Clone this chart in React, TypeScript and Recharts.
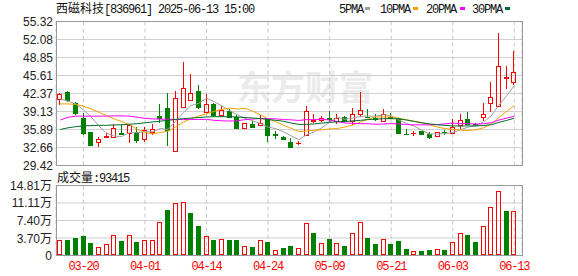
import React from 'react';
import { ComposedChart, Bar, Line, XAxis, YAxis, CartesianGrid } from 'recharts';

// 西磁科技 836961, daily K-line 2025-03-17 .. 2025-06-13
const dates = [
  '03-17', '03-18', '03-19', '03-20', '03-21', '03-24', '03-25', '03-26', '03-27', '03-28',
  '03-31', '04-01', '04-02', '04-03', '04-07', '04-08', '04-09', '04-10', '04-11', '04-14',
  '04-15', '04-16', '04-17', '04-18', '04-21', '04-22', '04-23', '04-24', '04-25', '04-28',
  '04-29', '04-30', '05-06', '05-07', '05-08', '05-09', '05-12', '05-13', '05-14', '05-15',
  '05-16', '05-19', '05-20', '05-21', '05-22', '05-23', '05-26', '05-27', '05-28', '05-29',
  '05-30', '06-03', '06-04', '06-05', '06-06', '06-09', '06-10', '06-11', '06-12', '06-13',
];

const opens = [
  41.43, 42.7, 40.6, 37.96, 35.45, 33.59, 34.49, 34.49, 35.2, 35.33,
  35.45, 34.25, 35.45, 38.32, 39.76, 31.97, 39.88, 41.14, 42.82, 38.98,
  40.42, 38.44, 39.28, 38.2, 36.23, 36.88, 36.64, 37.78, 35.05, 34.6,
  33.65, 33.45, 34.97, 37.42, 37.6, 37.9, 37.36, 38.2, 37.42, 38.74,
  38.2, 38.02, 37.36, 38.2, 37.9, 35.15, 35.28, 35.55, 35.09, 34.67,
  35.45, 35.33, 36.7, 37.78, 36.85, 38.08, 40.6, 40.06, 45.2, 44.5,
];
const highs = [
  42.52, 42.75, 40.84, 38.8, 35.5, 34.5, 35.3, 36.8, 36.88, 36.7,
  36.3, 36.3, 36.88, 40.48, 42.4, 42.88, 48.03, 45.88, 43.9, 42.28,
  40.6, 40.1, 39.52, 38.5, 37.1, 37.4, 38.44, 37.8, 35.6, 34.65,
  34.37, 33.9, 40.12, 38.62, 38.38, 39.28, 38.62, 38.38, 39.76, 42.64,
  39.58, 38.6, 39.58, 38.9, 38.0, 35.9, 35.55, 35.6, 35.39, 35.45,
  35.8, 37.84, 38.62, 38.98, 37.1, 40.6, 44.44, 53.31, 47.31, 50.01,
];
const lows = [
  40.3, 40.9, 38.5, 34.9, 33.1, 32.8, 34.45, 34.4, 34.85, 33.4,
  33.5, 33.65, 34.9, 37.0, 32.93, 31.85, 39.8, 41.0, 39.52, 38.9,
  38.2, 38.2, 38.02, 36.15, 36.05, 36.2, 36.5, 33.7, 34.25, 34.05,
  32.75, 33.05, 34.9, 37.0, 37.3, 37.3, 36.82, 37.36, 36.76, 38.2,
  37.9, 37.4, 37.3, 37.9, 35.2, 34.85, 34.67, 34.95, 34.25, 34.6,
  34.9, 35.2, 36.05, 36.9, 36.5, 37.36, 39.1, 39.88, 43.24, 43.96,
];
const closes = [
  42.28, 41.2, 38.92, 35.33, 33.17, 34.13, 34.73, 36.1, 35.05, 36.64,
  34.0, 35.8, 35.93, 37.96, 35.8, 41.56, 43.36, 42.4, 39.88, 40.42,
  38.5, 39.46, 38.2, 36.23, 37.0, 36.4, 37.12, 34.85, 34.95, 34.13,
  32.8, 33.53, 39.22, 37.6, 37.9, 37.84, 37.9, 37.48, 38.62, 39.4,
  38.14, 37.78, 38.74, 37.96, 35.33, 35.09, 35.33, 35.13, 34.49, 35.39,
  35.37, 36.35, 37.6, 36.94, 36.76, 38.62, 41.74, 47.31, 45.27, 46.17,
];
// volume, in 万 shares
const volumes = [
  3.35, 3.21, 3.63, 4.06, 2.56, 1.85, 2.35, 4.42, 2.99, 4.42,
  2.78, 3.35, 3.21, 7.19, 9.62, 11.04, 11.26, 8.98, 6.2, 4.2,
  3.21, 3.56, 3.21, 3.21, 2.07, 1.71, 3.35, 2.78, 1.21, 1.5,
  2.07, 1.64, 6.98, 4.7, 2.71, 3.56, 2.71, 2.07, 4.84, 7.19,
  3.78, 2.35, 3.56, 2.35, 2.99, 1.42, 1.0, 0.85, 1.21, 1.42,
  1.07, 2.92, 4.84, 4.27, 2.78, 6.27, 10.19, 13.61, 9.4, 9.34,
];

const ma5 = [
  41.4, 41.0, 40.5, 39.4, 38.18, 36.55, 35.26, 34.69, 34.64, 35.33,
  35.3, 35.52, 35.48, 36.07, 35.9, 37.41, 38.92, 40.22, 40.6, 41.52,
  40.91, 40.13, 39.29, 38.56, 37.88, 37.46, 36.99, 36.32, 36.06, 35.49,
  34.77, 34.05, 34.93, 35.46, 36.21, 37.22, 38.09, 37.74, 37.95, 38.25,
  38.31, 38.28, 38.54, 38.4, 37.59, 36.98, 36.49, 35.77, 35.07, 35.09,
  35.14, 35.35, 35.84, 36.33, 36.6, 37.25, 38.33, 40.27, 41.94, 43.82,
];
const ma10 = [
  40.5, 40.5, 40.4, 40.1, 39.6, 39.0, 38.4, 37.8, 37.3, 36.76,
  35.93, 35.39, 35.09, 35.35, 35.61, 36.36, 37.22, 37.85, 38.33, 38.71,
  39.16, 39.53, 39.75, 39.58, 39.7, 39.19, 38.56, 37.81, 37.31, 36.68,
  36.11, 35.52, 35.62, 35.76, 35.85, 35.99, 36.07, 36.34, 36.7, 37.23,
  37.76, 38.19, 38.14, 38.18, 37.92, 37.64, 37.39, 37.15, 36.74, 36.34,
  36.06, 35.92, 35.8, 35.7, 35.85, 36.2, 36.84, 38.06, 39.14, 40.21,
];
const ma20 = [
  37.6, 38.1, 38.3, 38.3, 38.3, 38.3, 38.3, 38.35, 38.35, 38.3,
  38.1, 37.9, 37.8, 37.75, 37.75, 37.7, 37.7, 37.7, 37.7, 37.73,
  37.54, 37.46, 37.42, 37.47, 37.66, 37.77, 37.89, 37.83, 37.82, 37.69,
  37.63, 37.52, 37.68, 37.67, 37.77, 37.58, 37.31, 37.07, 37.0, 36.95,
  36.93, 36.85, 36.88, 36.96, 36.88, 36.81, 36.72, 36.74, 36.72, 36.78,
  36.91, 37.05, 36.97, 36.94, 36.88, 36.92, 37.11, 37.6, 37.94, 38.28,
];
const ma30 = [
  35.9, 36.2, 36.4, 36.55, 36.6, 36.65, 36.65, 36.7, 36.75, 36.85,
  36.95, 37.1, 37.25, 37.4, 37.55, 37.7, 37.85, 37.95, 38.05, 38.15,
  38.2, 38.2, 38.2, 38.15, 38.05, 37.95, 37.85, 37.7, 37.55, 37.38,
  37.06, 36.81, 36.82, 36.89, 37.05, 37.18, 37.28, 37.33, 37.45, 37.54,
  37.68, 37.74, 37.84, 37.84, 37.82, 37.6, 37.34, 37.09, 36.91, 36.75,
  36.64, 36.54, 36.52, 36.54, 36.53, 36.61, 36.76, 37.18, 37.53, 37.93,
];

const priceTicks = [29.42, 32.66, 35.89, 39.13, 42.37, 45.61, 48.85, 52.08, 55.32];
const volTicks = [0, 3.7, 7.4, 11.11, 14.81];
const dateTicks = [3, 11, 19, 27, 35, 43, 51, 59];

const maLegend = [
  { name: '5PMA', key: 'ma5', color: '#a0a0a0' },
  { name: '10PMA', key: 'ma10', color: '#f5a000' },
  { name: '20PMA', key: 'ma20', color: '#ff00ff' },
  { name: '30PMA', key: 'ma30', color: '#006b30' },
];

const RED = '#ff0000';
const GREEN = '#008000';
const GRID = '#d0d0d0';
const CJK = '"Noto Sans CJK SC", sans-serif';
const MONO = '"Liberation Mono", "Noto Sans CJK SC", monospace';
const SANS = '"Liberation Sans", "Noto Sans CJK SC", sans-serif';

const rows = dates.map((date, i) => ({
  i,
  date,
  open: opens[i],
  high: highs[i],
  low: lows[i],
  close: closes[i],
  vol: volumes[i],
  volUp: i === 0 ? closes[i] >= opens[i] : closes[i] >= closes[i - 1],
  ma5: ma5[i],
  ma10: ma10[i],
  ma20: ma20[i],
  ma30: ma30[i],
}));

const X_DOMAIN: [number, number] = [-0.56, 60];

const Candle = (props: any) => {
  const { x, y, width, height, payload } = props;
  const { open, close, high, low } = payload;
  const col = Math.floor(x + width / 2);
  const k = height / (high - low || 1);
  const yAt = (v: number) => y + (high - v) * k;
  const up = close >= open;
  const color = up ? RED : GREEN;
  const top = Math.round(yAt(Math.max(open, close)));
  const bot = Math.round(yAt(Math.min(open, close)));
  const yHi = Math.round(y);
  const yLo = Math.round(y + height);
  if (up) {
    return (
      <g>
        {yHi < top && <line x1={col + 0.5} x2={col + 0.5} y1={yHi} y2={top} stroke={color} />}
        {yLo > bot && <line x1={col + 0.5} x2={col + 0.5} y1={bot} y2={yLo} stroke={color} />}
        {bot - top >= 1 ? (
          <rect x={col - 1.5} y={top + 0.5} width={4} height={bot - top} fill="none" stroke={color} />
        ) : (
          <rect x={col - 2} y={top} width={5} height={1} fill={color} />
        )}
      </g>
    );
  }
  return (
    <g>
      <line x1={col + 0.5} x2={col + 0.5} y1={yHi} y2={yLo} stroke={color} />
      <rect x={col - 2} y={top} width={5} height={Math.max(bot - top + 1, 1)} fill={color} />
    </g>
  );
};

const VolBar = (props: any) => {
  const { x, y, width, height, payload } = props;
  const col = Math.floor(x + width / 2);
  const top = Math.round(y);
  const base = Math.floor(y + height);
  if (payload.volUp) {
    return <rect x={col - 1.5} y={top + 0.5} width={4} height={Math.max(base - top - 1, 1)} fill="none" stroke={RED} />;
  }
  return <rect x={col - 2} y={top} width={5} height={Math.max(base - top, 1)} fill={GREEN} />;
};

const PriceTick = ({ x, y, payload }: any) => (
  <text x={x} y={y} dy={4.5} textAnchor="end" fontSize={12} fill="#222" fontFamily={SANS}>
    {payload.value.toFixed(2)}
  </text>
);

const VolTick = ({ x, y, payload }: any) => (
  <text x={x} y={y} dy={4.5} textAnchor="end" fontSize={12} fill="#222" fontFamily={SANS}>
    {payload.value === 0 ? '0' : `${payload.value.toFixed(2)}万`}
  </text>
);

const DateTick = ({ x, y, payload }: any) => (
  <text x={x} y={y} dy={14.5} textAnchor="middle" fontSize={12} fill={RED} fontFamily={MONO} letterSpacing={-1.2}>
    {dates[payload.value]}
  </text>
);

const abs = (left: number, top: number): React.CSSProperties => ({ position: 'absolute', left, top });

export default function App() {
  return (
    <div style={{ position: 'absolute', left: 0, top: 0, width: 578, height: 276, background: '#fff', overflow: 'hidden' }}>
      {/* watermark */}
      <svg width={578} height={276} style={abs(0, 0)}>
        <text x={237} y={100} fontSize={34} fontWeight={700} fill="#ebebeb" fontFamily={CJK}>东方财富</text>
      </svg>

      <div style={abs(0, 0)}>
        <ComposedChart
          width={578}
          height={176}
          data={rows}
          margin={{ top: 21.5, right: 56, bottom: 10.5, left: 0 }}
          style={{ overflow: 'visible' }}
        >
          <CartesianGrid horizontal vertical={false} stroke={GRID} />
          <CartesianGrid horizontal={false} vertical stroke="#c8c8c8" strokeDasharray="4 3" />
          <XAxis type="number" dataKey="i" domain={X_DOMAIN} ticks={dateTicks} hide height={0} />
          <YAxis
            type="number"
            domain={[29.42, 55.32]}
            ticks={priceTicks}
            interval={0}
            width={56}
            axisLine={false}
            tickLine={false}
            tickSize={0}
            tickMargin={3}
            tick={PriceTick}
          />
          <Bar dataKey={(d: any) => [d.low, d.high]} barSize={5} shape={Candle} isAnimationActive={false} />
          {maLegend.map((m) => (
            <Line key={m.key} type="linear" dataKey={m.key} stroke={m.color} strokeWidth={1} dot={false} activeDot={false} isAnimationActive={false} />
          ))}
        </ComposedChart>
      </div>
      <div style={{ ...abs(56, 21), width: 467, height: 145, boxSizing: 'border-box', border: '1px solid #999', pointerEvents: 'none' }} />

      <div style={abs(0, 170)}>
        <ComposedChart width={578} height={106} data={rows} margin={{ top: 15.5, right: 56, bottom: 0, left: 0 }}>
          <CartesianGrid horizontal vertical={false} stroke={GRID} />
          <CartesianGrid horizontal={false} vertical stroke="#c8c8c8" strokeDasharray="4 3" />
          <XAxis
            type="number"
            dataKey="i"
            domain={X_DOMAIN}
            ticks={dateTicks}
            height={20.5}
            axisLine={false}
            tickLine={false}
            tickSize={0}
            tickMargin={0}
            tick={DateTick}
            interval={0}
          />
          <YAxis
            type="number"
            domain={[0, 14.81]}
            ticks={volTicks}
            interval={0}
            width={56}
            axisLine={false}
            tickLine={false}
            tickSize={0}
            tickMargin={4}
            tick={VolTick}
          />
          <Bar dataKey="vol" barSize={5} shape={VolBar} isAnimationActive={false} />
        </ComposedChart>
      </div>
      <div style={{ ...abs(56, 185), width: 467, height: 71, boxSizing: 'border-box', border: '1px solid #999', pointerEvents: 'none' }} />

      {/* header texts */}
      <svg width={578} height={276} style={{ ...abs(0, 0), pointerEvents: 'none' }}>
        <text x={56} y={12.5} fontSize={12} fill="#111">
          <tspan fontFamily={CJK}>西磁科技</tspan>
          <tspan fontFamily={MONO} letterSpacing={-1.2}>[836961] 2025-06-13 15:00</tspan>
        </text>
        <text x={339} y={12.5} fontSize={12} fill="#111" fontFamily={MONO} letterSpacing={-1.2}>5PMA</text>
        <rect x={365} y={7} width={5} height={3} fill={maLegend[0].color} />
        <text x={380} y={12.5} fontSize={12} fill="#111" fontFamily={MONO} letterSpacing={-1.2}>10PMA</text>
        <rect x={413} y={7} width={5} height={3} fill={maLegend[1].color} />
        <text x={426} y={12.5} fontSize={12} fill="#111" fontFamily={MONO} letterSpacing={-1.2}>20PMA</text>
        <rect x={460} y={7} width={5} height={3} fill={maLegend[2].color} />
        <text x={472} y={12.5} fontSize={12} fill="#111" fontFamily={MONO} letterSpacing={-1.2}>30PMA</text>
        <rect x={505} y={7} width={5} height={3} fill={maLegend[3].color} />
        <text x={57} y={181.5} fontSize={12} fill="#111">
          <tspan fontFamily={CJK}>成交量</tspan>
          <tspan fontFamily={MONO} letterSpacing={-1.2}>:93415</tspan>
        </text>
      </svg>
    </div>
  );
}
